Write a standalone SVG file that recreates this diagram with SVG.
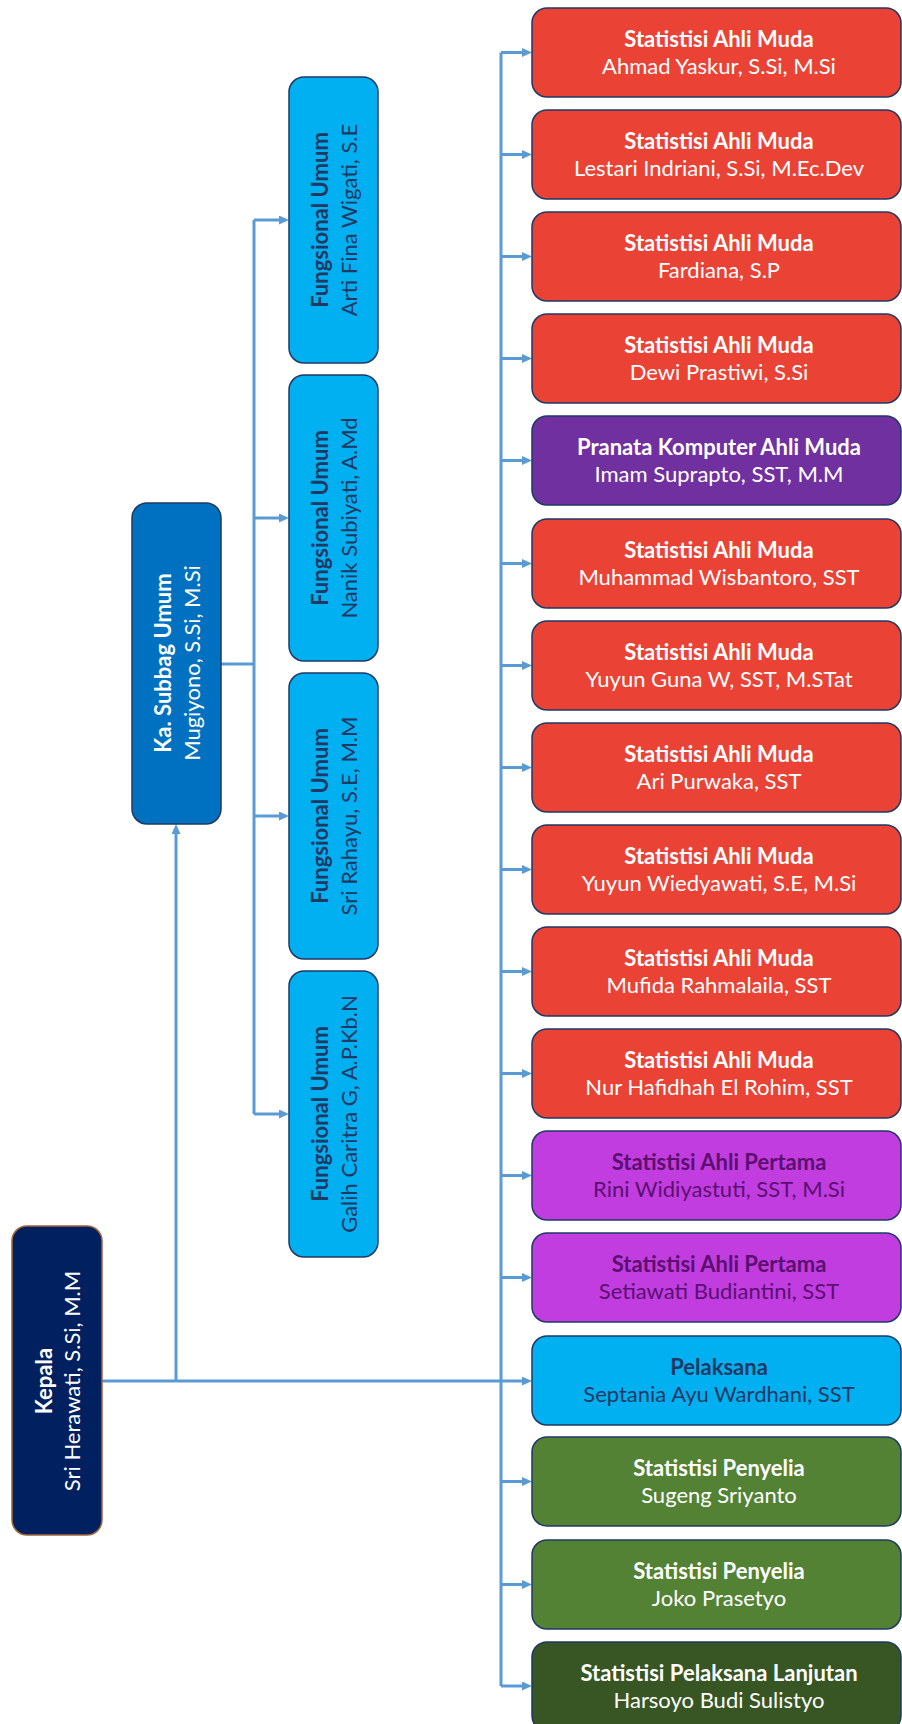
<svg xmlns="http://www.w3.org/2000/svg" width="902" height="1724" viewBox="0 0 902 1724">
<style>
.bx{stroke:#1F3864;stroke-width:1.5}
.t{font-family:Lato,"Liberation Sans",sans-serif;font-size:22px;text-anchor:middle}
.b{font-weight:bold}
.w{fill:#ffffff}
.d{fill:#1F3864}
.p{fill:#5A1070}
.red{fill:#EA4336}
.pur{fill:#7030A0}
.lp{fill:#C23DE0}
.cy{fill:#00B0F0}
.gr{fill:#548235}
.dg{fill:#375623}
.conn{stroke:#5B9BD5;stroke-width:3;fill:none}
.arr{marker-end:url(#ah)}
</style>
<defs>
<marker id="ah" markerUnits="userSpaceOnUse" markerWidth="10" markerHeight="9" refX="0" refY="4.5" orient="auto">
<path d="M0,0 L10,4.5 L0,9 z" fill="#5B9BD5"/>
</marker>
</defs>
<rect width="902" height="1724" fill="#ffffff"/>

<g id="connectors">
<path class="conn arr" d="M102,1381 H522"/>
<path class="conn arr" d="M176,1381 V834"/>
<path class="conn" d="M501,52.5 V1686"/>
<path class="conn arr" d="M501,52.5 H522"/>
<path class="conn arr" d="M501,154.5 H522"/>
<path class="conn arr" d="M501,256.5 H522"/>
<path class="conn arr" d="M501,358.5 H522"/>
<path class="conn arr" d="M501,460.5 H522"/>
<path class="conn arr" d="M501,563.5 H522"/>
<path class="conn arr" d="M501,665.5 H522"/>
<path class="conn arr" d="M501,767.5 H522"/>
<path class="conn arr" d="M501,869.5 H522"/>
<path class="conn arr" d="M501,971.5 H522"/>
<path class="conn arr" d="M501,1073.5 H522"/>
<path class="conn arr" d="M501,1175.5 H522"/>
<path class="conn arr" d="M501,1277.5 H522"/>
<path class="conn arr" d="M501,1481.5 H522"/>
<path class="conn arr" d="M501,1584.5 H522"/>
<path class="conn arr" d="M501,1686 H522"/>
<path class="conn" d="M221,664 H254"/>
<path class="conn" d="M254,220 V1114"/>
<path class="conn arr" d="M254,220 H279"/>
<path class="conn arr" d="M254,518 H279"/>
<path class="conn arr" d="M254,816 H279"/>
<path class="conn arr" d="M254,1114 H279"/>
</g>

<g id="kepala">
<rect x="12" y="1226" width="90" height="309" rx="15" fill="#002060" stroke="#A0653A" stroke-width="1.5"/>
<text class="t b w" transform="translate(52,1381) rotate(-90)">Kepala</text>
<text class="t w" transform="translate(80,1381) rotate(-90)">Sri Herawati, S.Si, M.M</text>
</g>

<g id="kasubbag">
<rect class="bx" x="132" y="503" width="89" height="321" rx="15" fill="#0070C0"/>
<text class="t b w" transform="translate(171,663) rotate(-90)">Ka. Subbag Umum</text>
<text class="t w" transform="translate(200,663) rotate(-90)">Mugiyono, S.Si, M.Si</text>
</g>

<g id="fu1">
<rect class="bx cy" x="289" y="77" width="89" height="286" rx="15"/>
<text class="t b d" transform="translate(328,220) rotate(-90)">Fungsional Umum</text>
<text class="t d" transform="translate(357,220) rotate(-90)">Arti Fina Wigati, S.E</text>
</g>
<g id="fu2">
<rect class="bx cy" x="289" y="375" width="89" height="286" rx="15"/>
<text class="t b d" transform="translate(328,518) rotate(-90)">Fungsional Umum</text>
<text class="t d" transform="translate(357,518) rotate(-90)">Nanik Subiyati, A.Md</text>
</g>
<g id="fu3">
<rect class="bx cy" x="289" y="673" width="89" height="286" rx="15"/>
<text class="t b d" transform="translate(328,816) rotate(-90)">Fungsional Umum</text>
<text class="t d" transform="translate(357,816) rotate(-90)">Sri Rahayu, S.E, M.M</text>
</g>
<g id="fu4">
<rect class="bx cy" x="289" y="971" width="89" height="286" rx="15"/>
<text class="t b d" transform="translate(328,1114) rotate(-90)">Fungsional Umum</text>
<text class="t d" transform="translate(357,1114) rotate(-90)">Galih Caritra G, A.P.Kb.N</text>
</g>

<g id="s1">
<rect class="bx red" x="532" y="8" width="369" height="89" rx="15"/>
<text class="t b w" x="719" y="47">Statistisi Ahli Muda</text>
<text class="t w" x="719" y="74">Ahmad Yaskur, S.Si, M.Si</text>
</g>
<g id="s2">
<rect class="bx red" x="532" y="110" width="369" height="89" rx="15"/>
<text class="t b w" x="719" y="149">Statistisi Ahli Muda</text>
<text class="t w" x="719" y="176">Lestari Indriani, S.Si, M.Ec.Dev</text>
</g>
<g id="s3">
<rect class="bx red" x="532" y="212" width="369" height="89" rx="15"/>
<text class="t b w" x="719" y="251">Statistisi Ahli Muda</text>
<text class="t w" x="719" y="278">Fardiana, S.P</text>
</g>
<g id="s4">
<rect class="bx red" x="532" y="314" width="369" height="89" rx="15"/>
<text class="t b w" x="719" y="353">Statistisi Ahli Muda</text>
<text class="t w" x="719" y="380">Dewi Prastiwi, S.Si</text>
</g>
<g id="s5">
<rect class="bx pur" x="532" y="416" width="369" height="89" rx="15"/>
<text class="t b w" x="719" y="455">Pranata Komputer Ahli Muda</text>
<text class="t w" x="719" y="482">Imam Suprapto, SST, M.M</text>
</g>
<g id="s6">
<rect class="bx red" x="532" y="519" width="369" height="89" rx="15"/>
<text class="t b w" x="719" y="558">Statistisi Ahli Muda</text>
<text class="t w" x="719" y="585">Muhammad Wisbantoro, SST</text>
</g>
<g id="s7">
<rect class="bx red" x="532" y="621" width="369" height="89" rx="15"/>
<text class="t b w" x="719" y="660">Statistisi Ahli Muda</text>
<text class="t w" x="719" y="687">Yuyun Guna W, SST, M.STat</text>
</g>
<g id="s8">
<rect class="bx red" x="532" y="723" width="369" height="89" rx="15"/>
<text class="t b w" x="719" y="762">Statistisi Ahli Muda</text>
<text class="t w" x="719" y="789">Ari Purwaka, SST</text>
</g>
<g id="s9">
<rect class="bx red" x="532" y="825" width="369" height="89" rx="15"/>
<text class="t b w" x="719" y="864">Statistisi Ahli Muda</text>
<text class="t w" x="719" y="891">Yuyun Wiedyawati, S.E, M.Si</text>
</g>
<g id="s10">
<rect class="bx red" x="532" y="927" width="369" height="89" rx="15"/>
<text class="t b w" x="719" y="966">Statistisi Ahli Muda</text>
<text class="t w" x="719" y="993">Mufida Rahmalaila, SST</text>
</g>
<g id="s11">
<rect class="bx red" x="532" y="1029" width="369" height="89" rx="15"/>
<text class="t b w" x="719" y="1068">Statistisi Ahli Muda</text>
<text class="t w" x="719" y="1095">Nur Hafidhah El Rohim, SST</text>
</g>
<g id="s12">
<rect class="bx lp" x="532" y="1131" width="369" height="89" rx="15"/>
<text class="t b p" x="719" y="1170">Statistisi Ahli Pertama</text>
<text class="t p" x="719" y="1197">Rini Widiyastuti, SST, M.Si</text>
</g>
<g id="s13">
<rect class="bx lp" x="532" y="1233" width="369" height="89" rx="15"/>
<text class="t b p" x="719" y="1272">Statistisi Ahli Pertama</text>
<text class="t p" x="719" y="1299">Setiawati Budiantini, SST</text>
</g>
<g id="s14">
<rect class="bx cy" x="532" y="1336" width="369" height="89" rx="15"/>
<text class="t b d" x="719" y="1375">Pelaksana</text>
<text class="t d" x="719" y="1402">Septania Ayu Wardhani, SST</text>
</g>
<g id="s15">
<rect class="bx gr" x="532" y="1437" width="369" height="89" rx="15"/>
<text class="t b w" x="719" y="1476">Statistisi Penyelia</text>
<text class="t w" x="719" y="1503">Sugeng Sriyanto</text>
</g>
<g id="s16">
<rect class="bx gr" x="532" y="1540" width="369" height="89" rx="15"/>
<text class="t b w" x="719" y="1579">Statistisi Penyelia</text>
<text class="t w" x="719" y="1606">Joko Prasetyo</text>
</g>
<g id="s17">
<rect class="bx dg" x="532" y="1642" width="369" height="89" rx="15"/>
<text class="t b w" x="719" y="1681">Statistisi Pelaksana Lanjutan</text>
<text class="t w" x="719" y="1708">Harsoyo Budi Sulistyo</text>
</g>
</svg>
